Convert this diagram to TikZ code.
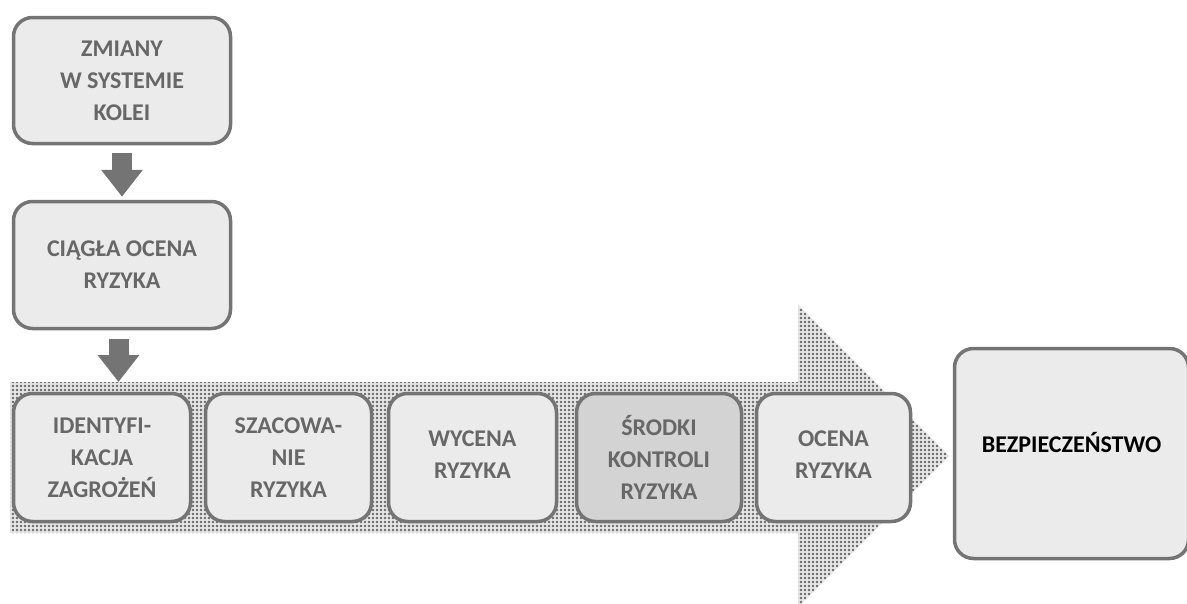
\documentclass[tikz,border=0pt]{standalone}
\usepackage{fontspec}
\newfontfamily\calfont{Carlito}
\usetikzlibrary{arrows.meta,patterns}

% dot screen used for the large process arrow
\pgfdeclarepatternformonly{dotscreen}{\pgfqpoint{-1pt}{-1pt}}{\pgfqpoint{3pt}{3pt}}{\pgfqpoint{4pt}{4pt}}{%
  \pgfpathcircle{\pgfqpoint{1pt}{1pt}}{1.3pt}\pgfusepath{fill}}

\definecolor{edgegray}{HTML}{747474}
\definecolor{boxfill}{HTML}{EBEBEB}
\definecolor{boxdark}{HTML}{D3D3D3}
\definecolor{txtgray}{HTML}{676767}
\definecolor{dotgray}{HTML}{6A6A6A}
\definecolor{bandfill}{HTML}{E6E6E6}

\tikzset{
  procbox/.style={draw=edgegray, line width=3.5pt, rounded corners=19pt, fill=boxfill,
    inner sep=0pt, align=center, text=txtgray,
    font=\calfont\bfseries\fontsize{24pt}{32pt}\selectfont},
  flowarrow/.style={draw=edgegray, line width=20pt,
    -{Triangle[width=40pt,length=27pt]}},
}
% lift text inside a box without changing its size
\newcommand{\liftby}[2]{\raisebox{#1}[\height][\depth]{#2}}

\begin{document}
\begin{tikzpicture}[x=1pt,y=-1pt]
  \useasboundingbox (0,0) rectangle (1187,603);

  % large process arrow in the background
  \path[fill=bandfill] (10,382) -- (798,382) -- (798,305) -- (949,456)
     -- (798,607) -- (798,533) -- (10,533) -- cycle;
  \path[pattern=dotscreen, pattern color=dotgray] (10,382) -- (798,382) -- (798,305) -- (949,456)
     -- (798,607) -- (798,533) -- (10,533) -- cycle;
  \coordinate (bandtop) at (118.5,382);

  % upper boxes
  \node[procbox, minimum width=217pt, minimum height=126pt] (zmiany) at (122,80.5)
    {ZMIANY\\W SYSTEMIE\\KOLEI};
  \node[procbox, minimum width=217pt, minimum height=127pt] (ciagla) at (122,265)
    {CIĄGŁA OCENA\\RYZYKA};

  % steps along the process arrow
  \node[procbox, minimum width=177pt, minimum height=128pt] (ident) at (102,457.5)
    {IDENTYFI-\\KACJA\\ZAGROŻEŃ};
  \node[procbox, minimum width=166pt, minimum height=128pt] (szac) at (288.5,457.5)
    {SZACOWA-\\NIE\\RYZYKA};
  \node[procbox, minimum width=168pt, minimum height=128pt] (wycena) at (472.5,457.5)
    {\liftby{3pt}{WYCENA}\\\liftby{3pt}{RYZYKA}};
  \node[procbox, fill=boxdark, minimum width=165pt, minimum height=128pt] (srodki) at (659,457.5)
    {ŚRODKI\\KONTROLI\\RYZYKA};
  \node[procbox, minimum width=154pt, minimum height=128pt] (ocena) at (833.5,457.5)
    {\liftby{3pt}{OCENA}\\\liftby{3pt}{RYZYKA}};

  % result
  \node[procbox, text=black, minimum width=234pt, minimum height=210pt] (bezp) at (1071.5,453.5)
    {\liftby{11pt}{BEZPIECZEŃSTWO}};

  % connectors
  \draw[flowarrow, shorten <=8pt, shorten >=3pt] (zmiany.south) -- (ciagla.north);
  \draw[flowarrow, shorten <=9pt] (ciagla.south -| bandtop) -- (bandtop);
\end{tikzpicture}
\end{document}
